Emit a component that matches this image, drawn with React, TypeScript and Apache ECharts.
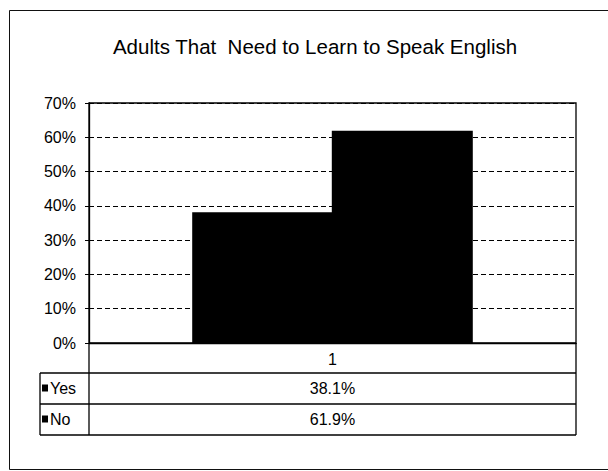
import React, { useEffect, useRef } from "react";
import * as echarts from "echarts";

const titleText = "Adults That  Need to Learn to Speak English";
const categories = ["1"];
const seriesNames = ["Yes", "No"];
const yesValues = [38.1];
const noValues = [61.9];
const yMax = 70;
const yInterval = 10;

const FONT = "'Liberation Sans', Arial, Helvetica, sans-serif";

export default function App() {
  const ref = useRef<HTMLDivElement>(null);

  useEffect(() => {
    if (!ref.current) return;
    const chart = echarts.init(ref.current, null, { renderer: "svg" });

    const gridLeft = 89;
    const gridTop = 103;
    const gridRight = 576;
    const gridBottom = 343;
    const legendLeft = 40;
    const row1 = gridBottom + 30; // bottom of category row
    const row2 = row1 + 31;
    const row3 = row2 + 31;
    const centerX = (gridLeft + gridRight) / 2;

    const seriesValues = [yesValues, noValues];

    const line = (x1: number, y1: number, x2: number, y2: number) => ({
      type: "line",
      shape: { x1, y1, x2, y2 },
      style: { stroke: "#000", lineWidth: 1.3 },
      silent: true,
    });

    const graphics: any[] = [
      {
        type: "rect",
        shape: { x: 9.5, y: 10.5, width: 640, height: 459 },
        style: { fill: "none", stroke: "#111", lineWidth: 1 },
        silent: true,
      },
      {
        type: "text",
        x: 315,
        y: 46,
        style: {
          text: titleText,
          font: `20.5px ${FONT}`,
          fill: "#000",
          textAlign: "center",
          textVerticalAlign: "middle",
        },
      },
      line(legendLeft, row1, gridRight, row1),
      line(legendLeft, row2, gridRight, row2),
      line(legendLeft, row3, gridRight, row3),
      line(legendLeft, row1, legendLeft, row3),
      line(gridLeft, gridBottom, gridLeft, row3),
      line(gridRight, gridBottom, gridRight, row3),
    ];

    const rowTops = [row1, row2];
    seriesNames.forEach((name, i) => {
      const cy = rowTops[i] + 15.5;
      graphics.push({
        type: "rect",
        shape: { x: 42, y: cy - 4, width: 6, height: 7 },
        style: { fill: "#000" },
        silent: true,
      });
      graphics.push({
        type: "text",
        x: 50,
        y: cy,
        style: {
          text: name,
          font: `16px ${FONT}`,
          fill: "#000",
          textAlign: "left",
          textVerticalAlign: "middle",
        },
      });
      graphics.push({
        type: "text",
        x: centerX,
        y: cy,
        style: {
          text: `${seriesValues[i][0].toFixed(1)}%`,
          font: `16px ${FONT}`,
          fill: "#000",
          textAlign: "center",
          textVerticalAlign: "middle",
        },
      });
    });

    chart.setOption({
      animation: false,
      backgroundColor: "#fff",
      textStyle: { fontFamily: FONT },
      grid: {
        left: gridLeft,
        top: gridTop,
        right: 608 - gridRight,
        bottom: 471 - gridBottom,
        show: true,
        borderColor: "#000",
        borderWidth: 1.3,
        containLabel: false,
      },
      xAxis: {
        type: "category",
        data: categories,
        axisLine: { show: true, lineStyle: { color: "#000", width: 1.3 } },
        axisTick: { show: false },
        axisLabel: { color: "#000", fontSize: 16, fontFamily: FONT, margin: 8 },
        splitLine: { show: false },
      },
      yAxis: {
        type: "value",
        min: 0,
        max: yMax,
        interval: yInterval,
        axisLine: { show: true, lineStyle: { color: "#000", width: 1.3 } },
        axisTick: { show: true, length: 4, lineStyle: { color: "#000" } },
        axisLabel: {
          color: "#000",
          fontSize: 16,
          fontFamily: FONT,
          margin: 13,
          formatter: "{value}%",
        },
        splitLine: {
          show: true,
          lineStyle: { color: "#000", type: [5, 3], width: 1 },
        },
      },
      series: [
        {
          name: seriesNames[0],
          type: "bar",
          data: yesValues,
          barWidth: 141,
          barGap: "-1%",
          itemStyle: { color: "#000" },
        },
        {
          name: seriesNames[1],
          type: "bar",
          data: noValues,
          barWidth: 141,
          barGap: "-1%",
          itemStyle: { color: "#000" },
        },
      ],
      graphic: graphics,
    });

    return () => chart.dispose();
  }, []);

  return (
    <div
      ref={ref}
      style={{ position: "fixed", left: 0, top: 0, width: 608, height: 471 }}
    />
  );
}
